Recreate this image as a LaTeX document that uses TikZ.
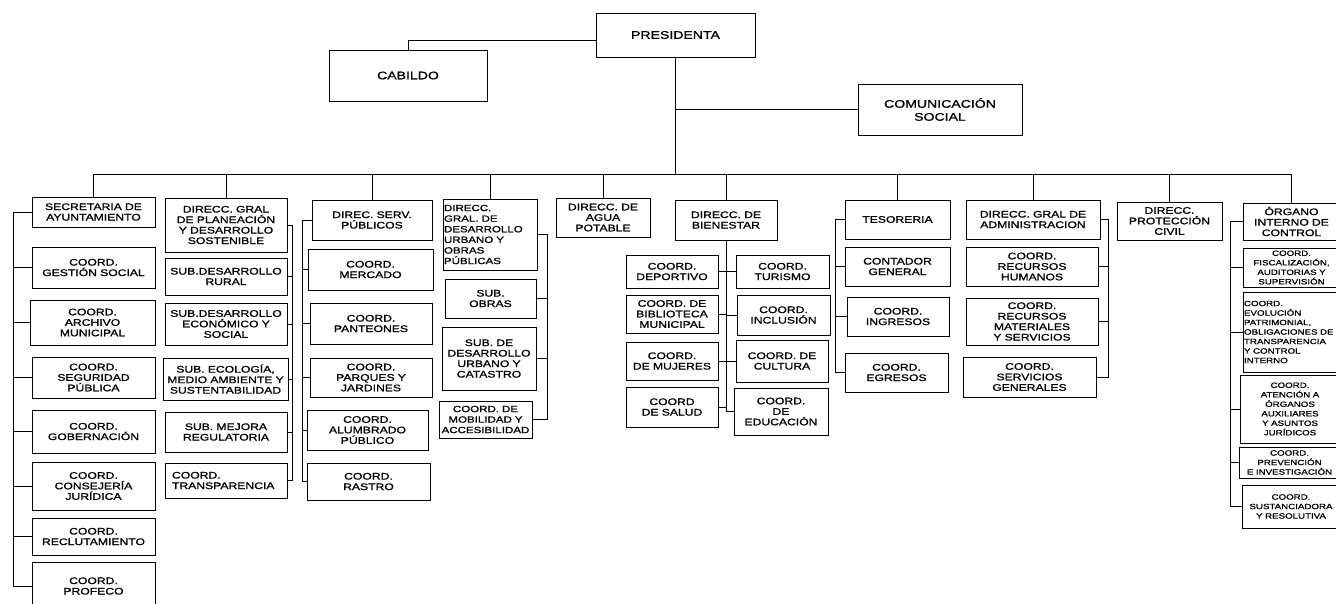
\documentclass[tikz,border=0pt]{standalone}
\usepackage{fontspec}
\setmainfont[FakeStretch=1.28,FakeBold=1.1]{Liberation Sans}
\tikzset{
  box/.style={draw, line width=0.8pt, inner sep=1pt, align=center,
    font=\fontsize{9.5}{10.5}\selectfont},
  small/.style={font=\fontsize{7.6}{9.5}\selectfont},
  big/.style={font=\fontsize{11}{13}\selectfont},
  link/.style={line width=0.8pt}
}
\newcommand\bx[7][]{%
  \pgfmathsetmacro\bxw{#5-#3-2}%
  \pgfmathsetmacro\bxh{#6-#4}%
  \pgfmathsetmacro\bxcx{(#3+#5)/2}%
  \pgfmathsetmacro\bxcy{(#4+#6)/2}%
  \node[box, text width=\bxw pt, minimum height=\bxh pt, #1] (#2) at (\bxcx,\bxcy) {#7};}
\begin{document}
\begin{tikzpicture}[x=1pt,y=-1pt]
\useasboundingbox (0,0) rectangle (1336,604);
\clip (0,0) rectangle (1336,604);
\fill[white] (0,0) rectangle (1336,604);
% top
\bx[big]{pres}{596}{13}{755}{57}{PRESIDENTA}
\bx[big]{cab}{329}{50}{487}{101}{CABILDO}
\bx[big]{com}{858}{84}{1022}{135}{COMUNICACIÓN\\SOCIAL}
% column 1
\bx{sec}{32}{197}{155}{227}{SECRETARIA DE\\AYUNTAMIENTO}
\bx{ges}{32}{247}{155}{288}{COORD.\\GESTIÓN SOCIAL}
\bx{arc}{30}{300}{155}{345}{COORD.\\ARCHIVO\\MUNICIPAL}
\bx{seg}{32}{357}{155}{398}{COORD.\\SEGURIDAD\\PÚBLICA}
\bx{gob}{32}{410}{155}{453}{COORD.\\GOBERNACIÓN}
\bx{con}{32}{462}{155}{510}{COORD.\\CONSEJERÍA\\JURÍDICA}
\bx{rec}{32}{518}{155}{555}{COORD.\\RECLUTAMIENTO}
\bx{pro}{32}{562}{155}{610}{COORD.\\PROFECO}
% column 2
\bx{pla}{165}{198}{287}{252}{DIRECC. GRAL\\DE PLANEACIÓN\\Y DESARROLLO\\SOSTENIBLE}
\bx{rur}{165}{258}{287}{295}{SUB.DESARROLLO\\RURAL}
\bx{eco}{165}{303}{287}{345}{SUB.DESARROLLO\\ECONÓMICO Y\\SOCIAL}
\bx{ecol}{163}{358}{288}{400}{SUB. ECOLOGÍA,\\MEDIO AMBIENTE Y\\SUSTENTABILIDAD}
\bx{mej}{165}{412}{287}{452}{SUB. MEJORA\\REGULATORIA}
\bx[align=left]{tra}{165}{463}{287}{498}{\hspace*{6pt}COORD.\\\hspace*{6pt}TRANSPARENCIA}
% column 3
\bx{ser}{312}{200}{432}{240}{DIREC. SERV.\\PÚBLICOS}
\bx{mer}{308}{249}{433}{290}{COORD.\\MERCADO}
\bx{pan}{310}{303}{432}{344}{COORD.\\PANTEONES}
\bx{par}{310}{358}{432}{397}{COORD.\\PARQUES Y\\JARDINES}
\bx{alu}{307}{410}{428}{450}{COORD.\\ALUMBRADO\\PÚBLICO}
\bx{ras}{307}{463}{430}{500}{COORD.\\RASTRO}
% column 4
\bx[align=left,font=\fontsize{9}{10.6}\selectfont]{urb}{443}{199}{537}{270}{DIRECC.\\GRAL. DE\\DESARROLLO\\URBANO Y\\OBRAS\\PÚBLICAS}
\bx{obr}{445}{279}{536}{318}{SUB.\\OBRAS}
\bx{cat}{442}{327}{536}{390}{SUB. DE\\DESARROLLO\\URBANO Y\\CATASTRO}
\bx[font=\fontsize{9}{10.5}\selectfont]{mob}{439}{401}{532}{438}{COORD. DE\\MOBILIDAD Y\\ACCESIBILIDAD}
% column 5
\bx{agu}{556}{198}{650}{237}{DIRECC. DE\\AGUA\\POTABLE}
% column 6
\bx{bie}{675}{200}{777}{240}{DIRECC. DE\\BIENESTAR}
\bx{dep}{626}{255}{718}{288}{COORD.\\DEPORTIVO}
\bx{bib}{626}{295}{718}{333}{COORD. DE\\BIBLIOTECA\\MUNICIPAL}
\bx{muj}{626}{342}{718}{380}{COORD.\\DE MUJERES}
\bx{sal}{626}{387}{718}{427}{COORD\\DE SALUD}
\bx{tur}{736}{255}{829}{288}{COORD.\\TURISMO}
\bx{inc}{737}{295}{830}{335}{COORD.\\INCLUSIÓN}
\bx{cul}{736}{340}{828}{382}{COORD. DE\\CULTURA}
\bx{edu}{734}{388}{828}{435}{COORD.\\DE\\EDUCACIÓN}
% column 7
\bx{tes}{845}{200}{950}{239}{TESORERIA}
\bx{cog}{845}{247}{950}{286}{CONTADOR\\GENERAL}
\bx{ing}{847}{297}{949}{336}{COORD.\\INGRESOS}
\bx{egr}{845}{353}{948}{392}{COORD.\\EGRESOS}
% column 8
\bx{adm}{966}{200}{1100}{239}{DIRECC. GRAL DE\\ADMINISTRACION}
\bx{rh}{966}{247}{1098}{286}{COORD.\\RECURSOS\\HUMANOS}
\bx{rms}{966}{298}{1098}{345}{COORD.\\RECURSOS\\MATERIALES\\Y SERVICIOS}
\bx{sg}{963}{357}{1096}{397}{COORD.\\SERVICIOS\\GENERALES}
% column 9
\bx{pc}{1117}{202}{1222}{240}{DIRECC.\\PROTECCIÓN\\CIVIL}
% column 10
\bx{org}{1243}{203}{1340}{240}{ÓRGANO\\INTERNO DE\\CONTROL}
\bx[small]{fis}{1243}{248}{1340}{287}{COORD.\\FISCALIZACIÓN,\\AUDITORIAS Y\\SUPERVISIÓN}
\bx[small,align=left]{evo}{1243}{292}{1340}{372}{COORD.\\EVOLUCIÓN\\PATRIMONIAL,\\OBLIGACIONES DE\\TRANSPARENCIA\\Y CONTROL\\INTERNO}
\bx[small]{ate}{1240}{375}{1340}{443}{COORD.\\ATENCIÓN A\\ÓRGANOS\\AUXILIARES\\Y ASUNTOS\\JURÍDICOS}
\bx[small]{pre}{1239}{447}{1340}{478}{COORD.\\PREVENCIÓN\\E INVESTIGACIÓN}
\bx[small]{sus}{1242}{485}{1340}{528}{COORD.\\SUSTANCIADORA\\Y RESOLUTIVA}
% connectors: top
\coordinate (bus) at (0,174);
\draw[link] (pres.south) -- (pres.south |- bus);
\draw[link] (sec.north |- bus) -- (org.north |- bus);
\foreach \n in {sec,pla,ser,urb,agu,bie,tes,adm,pc,org}
  \draw[link] (\n.north |- bus) -- (\n.north);
\draw[link] ([yshift=-5pt]pres.west) -| (cab.north);
\draw[link] (com.west) -- (com.west -| pres.south);
% brackets
\coordinate (b1) at (13,0);
\draw[link] (sec.west) -- (sec.west -| b1) -- (pro.west -| b1) -- (pro.west);
\foreach \n in {ges,arc,seg,gob,con,rec} \draw[link] (\n.west) -- (\n.west -| b1);
\coordinate (b2) at (292,0);
\draw[link] (pla.east) -- (pla.east -| b2) -- (tra.east -| b2) -- (tra.east);
\foreach \n in {rur,eco,ecol,mej} \draw[link] (\n.east) -- (\n.east -| b2);
\coordinate (b3) at (302,0);
\draw[link] (ser.west) -- (ser.west -| b3) -- (ras.west -| b3) -- (ras.west);
\foreach \n in {mer,pan,par,alu} \draw[link] (\n.west) -- (\n.west -| b3);
\coordinate (b4) at (547,0);
\draw[link] (urb.east) -- (urb.east -| b4) -- (mob.east -| b4) -- (mob.east);
\foreach \n in {obr,cat} \draw[link] (\n.east) -- (\n.east -| b4);
\draw[link] (bie.south) -- (bie.south |- edu.west);
\foreach \n in {dep,bib,muj,sal} \draw[link] (\n.east) -- (\n.east -| bie.south);
\foreach \n in {tur,inc,cul,edu} \draw[link] (\n.west) -- (\n.west -| bie.south);
\coordinate (b7) at (835,0);
\draw[link] (tes.west) -- (tes.west -| b7) -- (egr.west -| b7) -- (egr.west);
\foreach \n in {cog,ing} \draw[link] (\n.west) -- (\n.west -| b7);
\coordinate (b8) at (1108,0);
\draw[link] (adm.east) -- (adm.east -| b8) -- (sg.east -| b8) -- (sg.east);
\foreach \n in {rh,rms} \draw[link] (\n.east) -- (\n.east -| b8);
\coordinate (b10) at (1230,0);
\draw[link] (org.west) -- (org.west -| b10) -- (sus.west -| b10) -- (sus.west);
\foreach \n in {fis,evo,ate,pre} \draw[link] (\n.west) -- (\n.west -| b10);
\end{tikzpicture}
\end{document}
